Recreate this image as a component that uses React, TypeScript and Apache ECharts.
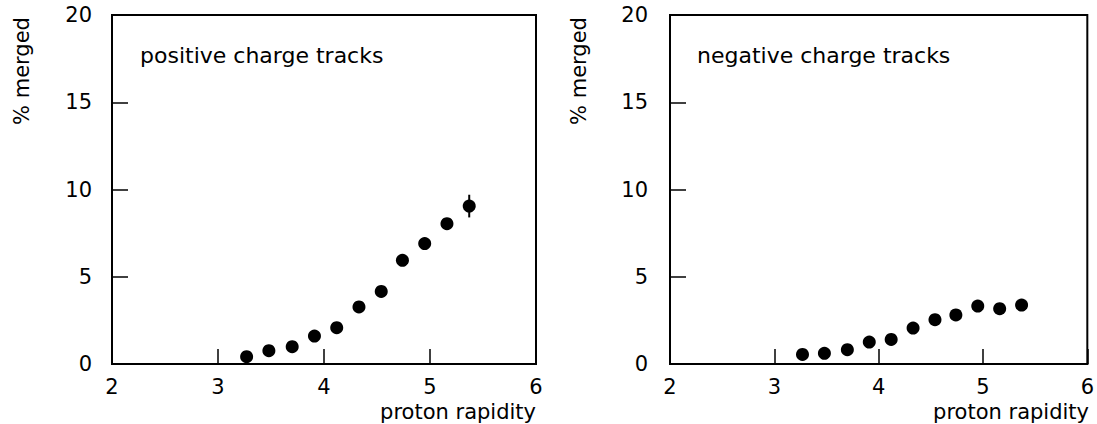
import React, { useEffect, useRef } from "react";
import * as echarts from "echarts";

const rapidity = [3.27, 3.48, 3.7, 3.91, 4.12, 4.33, 4.54, 4.74, 4.95, 5.16, 5.37];
const positiveMerged = [0.42, 0.76, 0.99, 1.6, 2.08, 3.27, 4.16, 5.94, 6.9, 8.04, 9.05];
const positiveErr = [0.1, 0.1, 0.12, 0.15, 0.18, 0.22, 0.25, 0.28, 0.3, 0.32, 0.65];
const negativeMerged = [0.55, 0.61, 0.82, 1.26, 1.41, 2.06, 2.54, 2.81, 3.32, 3.17, 3.38];
const negativeErr = [0.08, 0.08, 0.1, 0.12, 0.12, 0.15, 0.17, 0.18, 0.2, 0.2, 0.22];
const xTicks = [2, 3, 4, 5, 6];
const yTicks = [0, 5, 10, 15, 20];
const panelLabels = ["positive charge tracks", "negative charge tracks"];
const xName = "proton rapidity";
const yName = "% merged";

const FONT = "DejaVu Sans";

export default function App() {
  const ref = useRef<HTMLDivElement>(null);
  useEffect(() => {
    if (!ref.current) return;
    const chart = echarts.init(ref.current, null, { renderer: "svg" });
    const grids = [
      { left: 112, right: 1097 - 536, top: 15, bottom: 60 },
      { left: 670, right: 1097 - 1089, top: 15, bottom: 60 },
    ];
    const mkX = (gi: number) => ({
      type: "value",
      gridIndex: gi,
      min: xTicks[0],
      max: xTicks[xTicks.length - 1],
      interval: 1,
      axisLine: { show: true, lineStyle: { color: "#000", width: 2 } },
      axisTick: { show: true, inside: true, length: 15, lineStyle: { color: "#000", width: 1.5 } },
      axisLabel: { margin: 12, color: "#000", fontFamily: FONT, fontSize: 21 },
      splitLine: { show: false },
    });
    const mkY = (gi: number, margin: number) => ({
      type: "value",
      gridIndex: gi,
      min: yTicks[0],
      max: yTicks[yTicks.length - 1],
      interval: 5,
      axisLine: { show: true, lineStyle: { color: "#000", width: 2 } },
      axisTick: { show: true, inside: true, length: 16, lineStyle: { color: "#000", width: 1.5 } },
      axisLabel: { margin, color: "#000", fontFamily: FONT, fontSize: 21 },
      splitLine: { show: false },
    });
    const errRender = (params: any, api: any) => {
      const x = api.value(0);
      const y = api.value(1);
      const e = api.value(2);
      const a = api.coord([x, y + e]);
      const b = api.coord([x, y - e]);
      return {
        type: "line",
        shape: { x1: a[0], y1: a[1], x2: b[0], y2: b[1] },
        style: { stroke: "#000", lineWidth: 2 },
      };
    };
    const pts = (ys: number[]) => rapidity.map((x, i) => [x, ys[i]]);
    const errs = (ys: number[], es: number[]) => rapidity.map((x, i) => [x, ys[i], es[i]]);
    const dotStyle = { color: "#000", opacity: 1 };
    chart.setOption({
      animation: false,
      grid: grids.map((g) => ({ ...g, show: true, borderColor: "#000", borderWidth: 2, backgroundColor: "transparent" })),
      xAxis: [mkX(0), mkX(1)],
      yAxis: [mkY(0, 20), mkY(1, 22)],
      series: [
        { type: "custom", xAxisIndex: 0, yAxisIndex: 0, data: errs(positiveMerged, positiveErr), renderItem: errRender, z: 2 },
        { type: "scatter", xAxisIndex: 0, yAxisIndex: 0, data: pts(positiveMerged), symbol: "circle", symbolSize: 13, itemStyle: dotStyle, z: 3 },
        { type: "custom", xAxisIndex: 1, yAxisIndex: 1, data: errs(negativeMerged, negativeErr), renderItem: errRender, z: 2 },
        { type: "scatter", xAxisIndex: 1, yAxisIndex: 1, data: pts(negativeMerged), symbol: "circle", symbolSize: 13, itemStyle: dotStyle, z: 3 },
      ],
      graphic: [
        { type: "text", x: 140, y: 55, style: { text: panelLabels[0], fill: "#000", font: `22px "${FONT}"`, verticalAlign: "middle", align: "left" } },
        { type: "text", x: 697, y: 55, style: { text: panelLabels[1], fill: "#000", font: `22px "${FONT}"`, verticalAlign: "middle", align: "left" } },
        { type: "text", x: 536, y: 412, style: { text: xName, fill: "#000", font: `21px "${FONT}"`, verticalAlign: "middle", align: "right" } },
        { type: "text", x: 1089, y: 412, style: { text: xName, fill: "#000", font: `21px "${FONT}"`, verticalAlign: "middle", align: "right" } },
        { type: "text", x: 22, y: 71, rotation: Math.PI / 2, style: { text: yName, fill: "#000", font: `21px "${FONT}"`, verticalAlign: "middle", align: "center" } },
        { type: "text", x: 579, y: 71, rotation: Math.PI / 2, style: { text: yName, fill: "#000", font: `21px "${FONT}"`, verticalAlign: "middle", align: "center" } },
      ],
    });
    return () => chart.dispose();
  }, []);
  return (
    <div
      ref={ref}
      style={{ position: "fixed", left: 0, top: 0, width: 1097, height: 424, background: "#fff" }}
    />
  );
}
